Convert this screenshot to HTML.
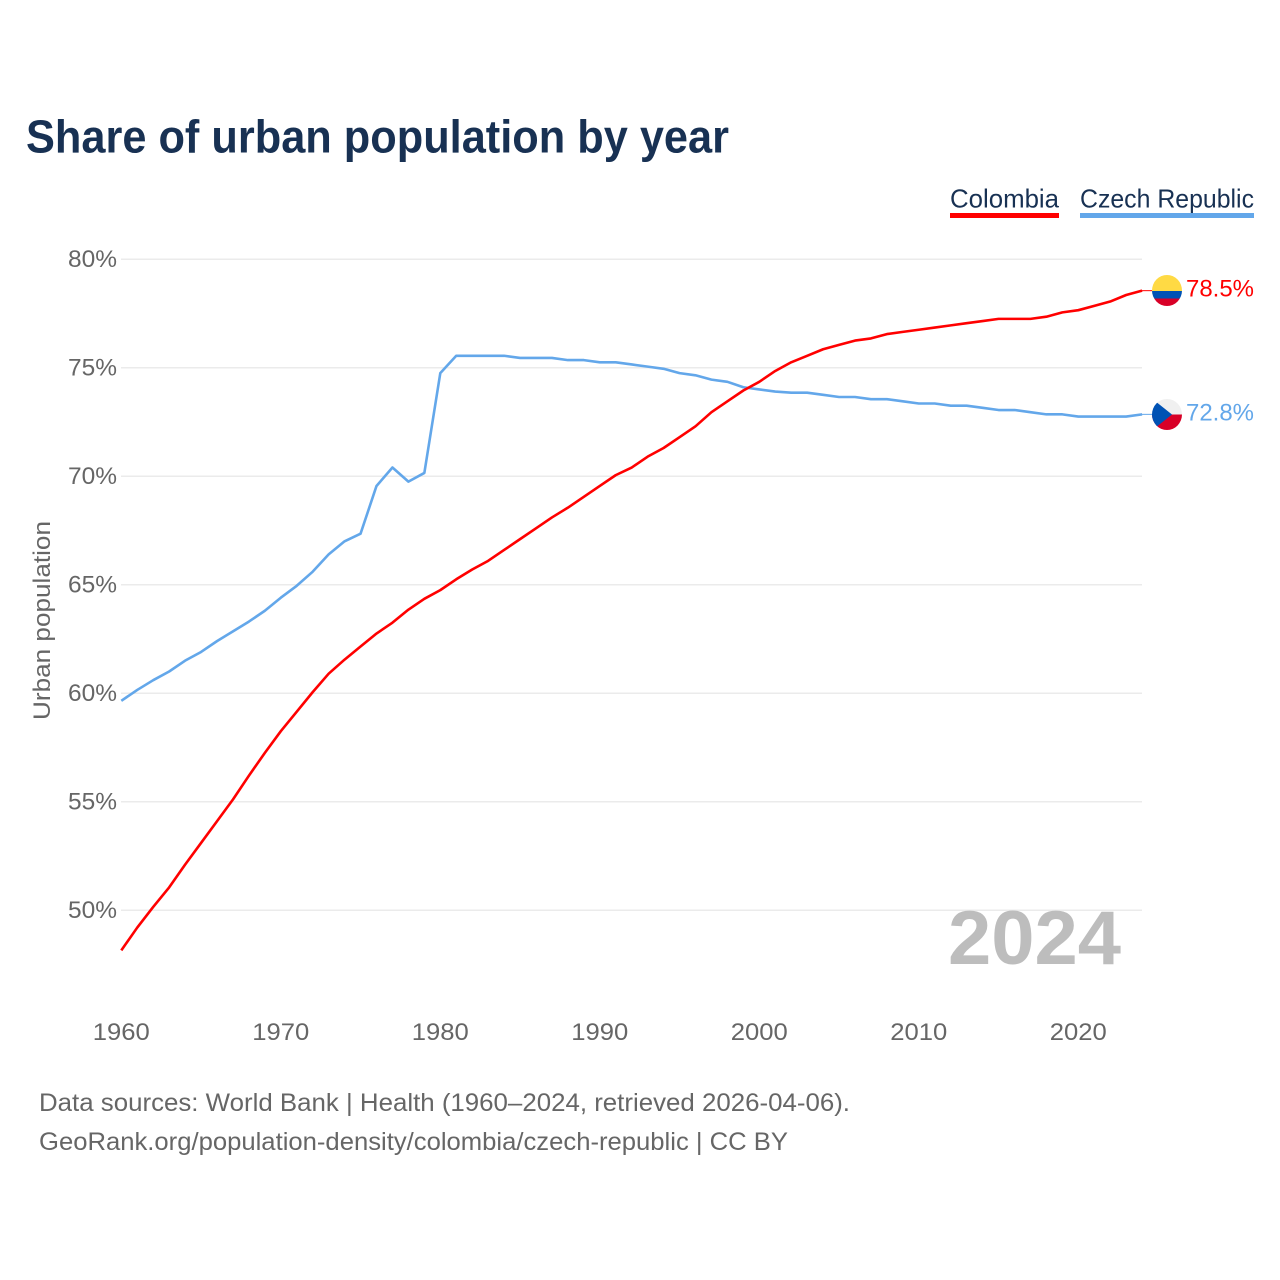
<!DOCTYPE html>
<html lang="en">
<head>
<meta charset="utf-8">
<title>Share of urban population by year</title>
<style>
html,body{margin:0;padding:0;background:#fff;}
svg{display:block;font-family:"Liberation Sans",sans-serif;}
</style>
</head>
<body>
<svg id="chart" xmlns="http://www.w3.org/2000/svg" width="1280" height="1280" viewBox="0 0 1280 1280">
  <rect x="0" y="0" width="1280" height="1280" fill="#ffffff"/>
  <text x="26" y="152.5" font-size="46" font-weight="700" fill="#183153" textLength="703" lengthAdjust="spacingAndGlyphs">Share of urban population by year</text>

  <g>
    <text x="950" y="207.5" font-size="26" fill="#183153" textLength="109" lengthAdjust="spacingAndGlyphs">Colombia</text>
    <rect x="950" y="213" width="109" height="5" fill="#ff0000"/>
  </g>
  <g>
    <text x="1080" y="207.5" font-size="26" fill="#183153" textLength="174" lengthAdjust="spacingAndGlyphs">Czech Republic</text>
    <rect x="1080" y="213" width="174" height="5" fill="#63a7ea"/>
  </g>

  <g id="grid"></g>
  <g id="yticks"></g>
  <g id="xticks"></g>
  <text transform="translate(50 720) rotate(-90)" font-size="24" fill="#666666" textLength="199" lengthAdjust="spacingAndGlyphs">Urban population</text>

  <text x="948" y="964" font-size="76" font-weight="700" fill="#bdbdbd" textLength="173" lengthAdjust="spacingAndGlyphs">2024</text>

  <g id="series"></g>

  <defs>
    <clipPath id="clip-co"><ellipse cx="1167" cy="290.5" rx="15" ry="15.5"/></clipPath>
    <clipPath id="clip-cz"><ellipse cx="1167" cy="414.5" rx="15" ry="15.5"/></clipPath>
  </defs>
  <g clip-path="url(#clip-co)">
    <rect x="1150" y="274" width="34" height="17" fill="#ffda44"/>
    <rect x="1150" y="291" width="34" height="7.5" fill="#0052b4"/>
    <rect x="1150" y="298.5" width="34" height="9" fill="#d80027"/>
  </g>
  <g clip-path="url(#clip-cz)">
    <rect x="1150" y="398" width="34" height="17" fill="#f0f0f0"/>
    <rect x="1150" y="414.5" width="34" height="17" fill="#d80027"/>
    <polygon points="1150,397 1172,414.5 1150,432" fill="#0052b4"/>
  </g>
  <text x="1186" y="296.5" font-size="24" fill="#ff0000" textLength="68" lengthAdjust="spacingAndGlyphs">78.5%</text>
  <text x="1186" y="420.5" font-size="24" fill="#63a7ea" textLength="68" lengthAdjust="spacingAndGlyphs">72.8%</text>

  <text x="39" y="1111" font-size="25" fill="#666666" textLength="811" lengthAdjust="spacingAndGlyphs">Data sources: World Bank | Health (1960–2024, retrieved 2026-04-06).</text>
  <text x="39" y="1150" font-size="25" fill="#666666" textLength="749" lengthAdjust="spacingAndGlyphs">GeoRank.org/population-density/colombia/czech-republic | CC BY</text>
</svg>
<script>
const startYear = 1960;
const yTickValues = [50, 55, 60, 65, 70, 75, 80];
const xTickYears = [1960, 1970, 1980, 1990, 2000, 2010, 2020];
const colombiaValues = [
  48.15, 49.2, 50.15, 51.05, 52.1, 53.1, 54.1, 55.1, 56.2, 57.25,
  58.25, 59.15, 60.05, 60.9, 61.55, 62.15, 62.75, 63.25, 63.85, 64.35,
  64.75, 65.25, 65.7, 66.1, 66.6, 67.1, 67.6, 68.1, 68.55, 69.05,
  69.55, 70.05, 70.4, 70.9, 71.3, 71.8, 72.3, 72.95, 73.45, 73.95,
  74.35, 74.85, 75.25, 75.55, 75.85, 76.05, 76.25, 76.35, 76.55, 76.65,
  76.75, 76.85, 76.95, 77.05, 77.15, 77.25, 77.25, 77.25, 77.35, 77.55,
  77.65, 77.85, 78.05, 78.35, 78.55
];
const czechValues = [
  59.65, 60.15, 60.6, 61.0, 61.5, 61.9, 62.4, 62.85, 63.3, 63.8,
  64.4, 64.95, 65.6, 66.4, 67.0, 67.35, 69.55, 70.4, 69.75, 70.15,
  74.75, 75.55, 75.55, 75.55, 75.55, 75.45, 75.45, 75.45, 75.35, 75.35,
  75.25, 75.25, 75.15, 75.05, 74.95, 74.75, 74.65, 74.45, 74.35, 74.1,
  74.0, 73.9, 73.85, 73.85, 73.75, 73.65, 73.65, 73.55, 73.55, 73.45,
  73.35, 73.35, 73.25, 73.25, 73.15, 73.05, 73.05, 72.95, 72.85, 72.85,
  72.75, 72.75, 72.75, 72.75, 72.85
];

const SVG_NS = 'http://www.w3.org/2000/svg';
function xScale(year) { return 121.3 + (year - 1960) * 15.95; }
function yScale(value) { return 910.2 - (value - 50) * 21.7; }

const gridGroup = document.getElementById('grid');
const yTickGroup = document.getElementById('yticks');
const xTickGroup = document.getElementById('xticks');
const seriesGroup = document.getElementById('series');

yTickValues.forEach(function (value) {
  const line = document.createElementNS(SVG_NS, 'line');
  
  
  line.setAttribute('x1', 121);
  line.setAttribute('x2', 1142);
  line.setAttribute('y1', yScale(value));
  line.setAttribute('y2', yScale(value));
  line.setAttribute('stroke', '#ebebeb');
  line.setAttribute('stroke-width', '1.5');
  gridGroup.appendChild(line);

  const label = document.createElementNS(SVG_NS, 'text');
  
  
  label.setAttribute('x', 68);
  label.setAttribute('y', yScale(value) + 8);
  label.setAttribute('font-size', '24');
  label.setAttribute('fill', '#666666');
  label.setAttribute('textLength', '49');
  label.setAttribute('lengthAdjust', 'spacingAndGlyphs');
  label.textContent = value + '%';
  yTickGroup.appendChild(label);
});

xTickYears.forEach(function (year) {
  const label = document.createElementNS(SVG_NS, 'text');
  
  
  label.setAttribute('x', xScale(year) - 28.5);
  label.setAttribute('y', 1040);
  label.setAttribute('font-size', '24');
  label.setAttribute('fill', '#666666');
  label.setAttribute('textLength', '57');
  label.setAttribute('lengthAdjust', 'spacingAndGlyphs');
  label.textContent = String(year);
  xTickGroup.appendChild(label);
});

function pointsFor(values) {
  return values.map(function (value, i) {
    return xScale(startYear + i).toFixed(2) + ',' + yScale(value).toFixed(2);
  }).join(' ');
}

const colombiaLine = document.createElementNS(SVG_NS, 'polyline');


colombiaLine.setAttribute('points', pointsFor(colombiaValues));
colombiaLine.setAttribute('fill', 'none');
colombiaLine.setAttribute('stroke', '#ff0000');
colombiaLine.setAttribute('stroke-width', '2.6');
colombiaLine.setAttribute('stroke-linejoin', 'round');

const czechLine = document.createElementNS(SVG_NS, 'polyline');


czechLine.setAttribute('points', pointsFor(czechValues));
czechLine.setAttribute('fill', 'none');
czechLine.setAttribute('stroke', '#63a7ea');
czechLine.setAttribute('stroke-width', '2.6');
czechLine.setAttribute('stroke-linejoin', 'round');

seriesGroup.appendChild(czechLine);
seriesGroup.appendChild(colombiaLine);

const colombiaLeader = document.createElementNS(SVG_NS, 'line');


colombiaLeader.setAttribute('x1', 1142);
colombiaLeader.setAttribute('x2', 1152);
colombiaLeader.setAttribute('y1', yScale(colombiaValues[colombiaValues.length - 1]));
colombiaLeader.setAttribute('y2', yScale(colombiaValues[colombiaValues.length - 1]));
colombiaLeader.setAttribute('stroke', '#ff0000');
colombiaLeader.setAttribute('stroke-width', '1');
seriesGroup.appendChild(colombiaLeader);

const czechLeader = document.createElementNS(SVG_NS, 'line');


czechLeader.setAttribute('x1', 1142);
czechLeader.setAttribute('x2', 1152);
czechLeader.setAttribute('y1', yScale(czechValues[czechValues.length - 1]));
czechLeader.setAttribute('y2', yScale(czechValues[czechValues.length - 1]));
czechLeader.setAttribute('stroke', '#63a7ea');
czechLeader.setAttribute('stroke-width', '1');
seriesGroup.appendChild(czechLeader);
</script>
</body>
</html>
